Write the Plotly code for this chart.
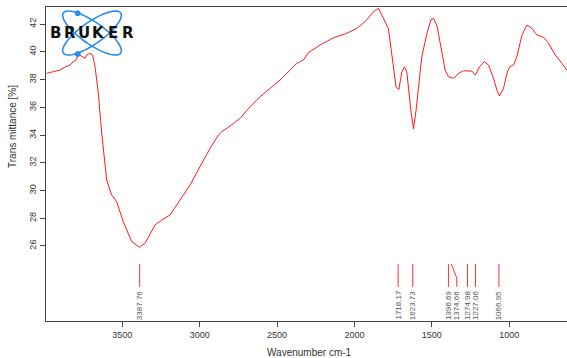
import numpy as np
import plotly.graph_objects as go

# ---- data ----
wavenumber = [3989, 3950, 3903, 3870, 3838, 3817, 3800, 3784, 3762, 3741, 3730, 3709, 3692, 3676,
              3655, 3633, 3623, 3601, 3569, 3536, 3494, 3439, 3390, 3353, 3289, 3245, 3192, 3127,
              3062, 2998, 2933, 2879, 2857, 2804, 2739, 2675, 2610, 2545, 2481, 2416, 2373, 2351,
              2330, 2298, 2222, 2136, 2050, 1985, 1931, 1878, 1845, 1781, 1748, 1731, 1713, 1694,
              1677, 1662, 1636, 1619, 1602, 1565, 1532, 1507, 1490, 1468, 1446, 1414, 1393, 1360,
              1328, 1296, 1241, 1220, 1192, 1162, 1134, 1102, 1080, 1063, 1037, 1015, 998, 973,
              951, 918, 886, 854, 821, 779, 746, 703, 660, 627]
transmittance = [38.45, 38.55, 38.68, 38.90, 39.05, 39.28, 39.40, 39.77, 39.69, 39.53, 39.77, 39.89,
                 39.77, 38.92, 37.0, 34.14, 32.92, 30.76, 29.68, 29.19, 27.75, 26.31, 25.91, 26.19,
                 27.51, 27.87, 28.23, 29.32, 30.4, 31.72, 33.04, 34.0, 34.24, 34.65, 35.2, 36.04,
                 36.76, 37.37, 37.96, 38.68, 39.17, 39.28, 39.41, 39.93, 40.49, 41.01, 41.33, 41.69,
                 42.17, 42.89, 43.13, 41.69, 38.92, 37.44, 37.29, 38.56, 38.92, 38.56, 35.8, 34.43,
                 35.8, 39.64, 41.33, 42.29, 42.41, 41.93, 40.61, 38.68, 38.2, 38.09, 38.45, 38.63,
                 38.61, 38.32, 38.92, 39.28, 39.05, 38.09, 37.24, 36.81, 37.37, 38.45, 38.92, 39.05,
                 39.64, 41.21, 41.93, 41.69, 41.21, 41.04, 40.61, 39.77, 39.17, 38.68]

peak_wn = [3387.76, 1718.17, 1623.73, 1396.69, 1374.66, 1274.98, 1227.06, 1066.95]
peak_label_wn = [3387.76, 1718.17, 1623.73, 1393.0, 1339.0, 1270.0, 1218.0, 1066.95]
peak_labels = ["3387.76", "1718.17", "1623.73", "1396.69", "1374.66", "1274.98", "1227.06", "1066.95"]

x_ticks = [3500, 3000, 2500, 2000, 1500, 1000]
y_ticks = [26, 28, 30, 32, 34, 36, 38, 40, 42]

X_RANGE = [3993, 627]
Y_RANGE = [20.59, 43.23]
MARK_TOP, MARK_BEND, MARK_BOTTOM = 24.7, 23.7, 23.05

fig = go.Figure()
fig.add_trace(go.Scatter(x=wavenumber, y=transmittance, mode="lines",
                         line=dict(color="#ff1a1a", width=1), hoverinfo="skip"))

for wn, lwn, lab in zip(peak_wn, peak_label_wn, peak_labels):
    if abs(wn - lwn) > 10:
        xs, ys = [wn, lwn, lwn], [MARK_TOP, MARK_BEND, MARK_BOTTOM]
    else:
        xs, ys = [lwn, lwn], [MARK_TOP, MARK_BOTTOM]
    fig.add_trace(go.Scatter(x=xs, y=ys, mode="lines",
                             line=dict(color="#ff3030", width=1), hoverinfo="skip"))
    fig.add_annotation(x=lwn, y=MARK_BOTTOM - 0.15, text=lab, textangle=-90, showarrow=False,
                       xanchor="center", yanchor="top",
                       font=dict(family="Liberation Sans, Arial", size=8, color="#555555"))

# ---- Bruker logo (decoration) ----
L, R, T, B = 46, 567, 7, 321
def px(xp):
    return (xp - L) / (R - L)
def py(yp):
    return (B - yp) / (B - T)

cx, cy = 92, 33
t = np.linspace(0, 2 * np.pi, 60)
for ang in (np.deg2rad(35), np.deg2rad(-35)):
    ex = 35 * np.cos(t)
    ey = 11 * np.sin(t)
    xr = cx + ex * np.cos(ang) - ey * np.sin(ang)
    yr = cy - (ex * np.sin(ang) + ey * np.cos(ang))
    path = "M " + " L ".join(f"{px(a):.5f},{py(b):.5f}" for a, b in zip(xr, yr)) + " Z"
    fig.add_shape(type="path", path=path, xref="paper", yref="paper",
                  line=dict(color="#2a8cf0", width=1.6), fillcolor="rgba(0,0,0,0)")
for dx, dy in ((77.7, 13.3), (77.7, 54)):
    fig.add_shape(type="circle", xref="paper", yref="paper",
                  x0=px(dx - 2.5), x1=px(dx + 2.5), y0=py(dy + 2.5), y1=py(dy - 2.5),
                  line=dict(color="#2a8cf0", width=1), fillcolor="#2a8cf0")
for i, ch in enumerate("BRUKER"):
    fig.add_annotation(x=px(55.3 + i * 14.5), y=py(33), xref="paper", yref="paper",
                       text=f"<b>{ch}</b>", showarrow=False, xanchor="center", yanchor="middle",
                       font=dict(family="DejaVu Sans", size=15, color="#111111"))

# axis titles
fig.add_annotation(x=px(309), y=py(352), xref="paper", yref="paper", text="Wavenumber cm-1",
                   showarrow=False, xanchor="center", yanchor="middle",
                   font=dict(family="Liberation Sans, Arial", size=10, color="#333333"))
fig.add_annotation(x=px(12), y=py(127), xref="paper", yref="paper", text="Trans mittance [%]",
                   textangle=-90, showarrow=False, xanchor="center", yanchor="middle",
                   font=dict(family="Liberation Sans, Arial", size=10, color="#333333"))

fig.update_layout(
    width=567, height=358, margin=dict(l=L, r=0, t=T, b=358 - B),
    paper_bgcolor="white", plot_bgcolor="white", showlegend=False,
    xaxis=dict(range=X_RANGE, tickvals=x_ticks, ticks="outside", ticklen=5, tickcolor="#444",
               showline=True, linecolor="#444", linewidth=1, mirror=True, showgrid=False,
               zeroline=False, tickfont=dict(family="Liberation Sans, Arial", size=9, color="#333")),
    yaxis=dict(range=Y_RANGE, tickvals=y_ticks, ticks="outside", ticklen=5, tickcolor="#444",
               showline=True, linecolor="#444", linewidth=1, showgrid=False, zeroline=False,
               tickangle=-90,
               tickfont=dict(family="Liberation Sans, Arial", size=9, color="#333")),
)

fig.write_html("out.html")
